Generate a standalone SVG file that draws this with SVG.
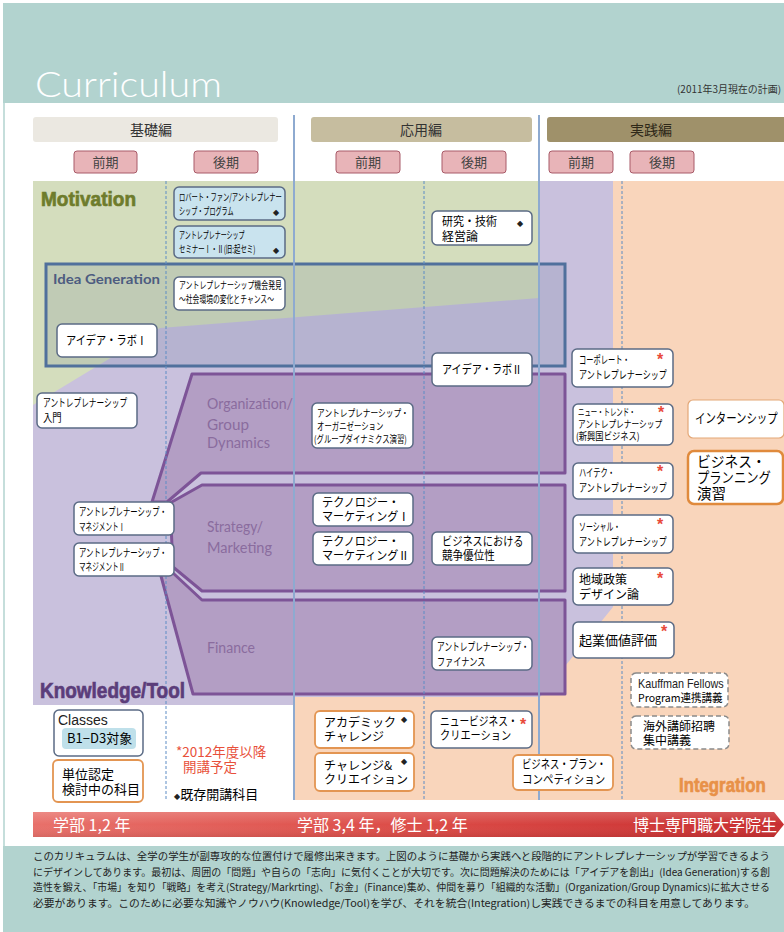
<svg xmlns="http://www.w3.org/2000/svg" width="784" height="932" viewBox="0 0 784 932">
<defs>
<linearGradient id="barGrad" x1="0" y1="0" x2="1" y2="0">
<stop offset="0" stop-color="#e8706a"/>
<stop offset="0.5" stop-color="#dc4c47"/>
<stop offset="1" stop-color="#c82e30"/>
</linearGradient>
<linearGradient id="barShade" x1="0" y1="0" x2="0" y2="1">
<stop offset="0" stop-color="#ffffff" stop-opacity="0.18"/>
<stop offset="0.5" stop-color="#ffffff" stop-opacity="0"/>
<stop offset="1" stop-color="#000000" stop-opacity="0.08"/>
</linearGradient>
</defs>
<style>
.jp{font-family:'Noto Sans CJK JP','Noto Sans CJK SC',sans-serif;}
.lat{font-family:'Liberation Sans',Arial,sans-serif;}
.gill{font-family:'Lato','Open Sans',sans-serif;}
.imp{font-family:'Liberation Sans Narrow','Liberation Sans',sans-serif;font-weight:bold;stroke-width:0.7;}
.node{fill:#fff;stroke:#5b6b85;stroke-width:1.5;}
.blue{fill:#c9e3ee;}
.orng{fill:#fff;stroke:#e39552;stroke-width:1.8;}
.dash{fill:#fff;stroke:#8a8a8a;stroke-width:1.5;stroke-dasharray:5,3;}
.term{fill:#e8b4b8;stroke:#a85a68;stroke-width:1;}
.band{fill:#b39ec4;stroke:#7d5497;stroke-width:3;stroke-linejoin:round;}
.vline{stroke:#8eaad0;stroke-width:2;}
.dline{stroke:#5d8cc4;stroke-width:1;stroke-dasharray:3,2;}
.s10{font-size:10px;}
.s11{font-size:11px;}
.s12{font-size:12px;}
.s13{font-size:13px;}
.ast{font-family:'Liberation Sans',sans-serif;font-weight:bold;font-size:16px;fill:#e84a3a;}
.dia{font-size:8px;fill:#222;font-family:'DejaVu Sans',sans-serif;}
.area{font-family:'Lato','Open Sans',sans-serif;font-size:14.5px;fill:#8a6c9e;}
</style>

<!-- page background -->
<rect x="0" y="0" width="784" height="932" fill="#ffffff"/>
<rect x="3" y="3" width="781" height="100" fill="#b2d3cf"/>
<line x1="4" y1="103" x2="4" y2="846" stroke="#b2d3cf" stroke-width="1.5"/>
<text x="35" y="97" class="gill" font-size="36" font-weight="300" fill="#ffffff" textLength="187" lengthAdjust="spacingAndGlyphs">Curriculum</text>
<text x="677" y="93" class="jp" font-size="10" fill="#333" textLength="104" lengthAdjust="spacingAndGlyphs">(2011年3月現在の計画)</text>

<!-- phase headers -->
<g id="phase-kiso">
<rect x="33" y="117" width="245" height="25" rx="3" fill="#ebe8e1"/>
<text x="151" y="135" class="jp" font-size="14" text-anchor="middle" fill="#333">基礎編</text>
</g>
<g id="phase-oyo">
<rect x="311" y="117" width="221" height="25" rx="3" fill="#c6bd9f"/>
<text x="421" y="135" class="jp" font-size="14" text-anchor="middle" fill="#333">応用編</text>
</g>
<g id="phase-jissen">
<rect x="547" y="117" width="240" height="25" rx="3" fill="#9f916a"/>
<text x="651" y="135" class="jp" font-size="14" text-anchor="middle" fill="#2e2818">実践編</text>
</g>
<g id="terms">
<rect class="term" x="74" y="151" width="63" height="22" rx="3"/><text x="105.5" y="167" class="jp s13" text-anchor="middle" fill="#444">前期</text>
<rect class="term" x="194" y="151" width="64" height="22" rx="3"/><text x="226" y="167" class="jp s13" text-anchor="middle" fill="#444">後期</text>
<rect class="term" x="336" y="151" width="64" height="22" rx="3"/><text x="368" y="167" class="jp s13" text-anchor="middle" fill="#444">前期</text>
<rect class="term" x="442" y="151" width="64" height="22" rx="3"/><text x="474" y="167" class="jp s13" text-anchor="middle" fill="#444">後期</text>
<rect class="term" x="549" y="151" width="64" height="22" rx="3"/><text x="581" y="167" class="jp s13" text-anchor="middle" fill="#444">前期</text>
<rect class="term" x="630" y="151" width="64" height="22" rx="3"/><text x="662" y="167" class="jp s13" text-anchor="middle" fill="#444">後期</text>
</g>

<!-- regions -->
<g id="regions">
<rect x="295" y="181" width="489" height="619" fill="#f9d5bb"/>
<rect x="33" y="181" width="506" height="230" fill="#d4ddbd"/>
<polygon points="33,405 160,328 539,298 539,181 613,181 613,607 540,697 294,697 294,705 33,705" fill="#c9c1dd"/>
<rect x="46" y="264" width="519" height="102" fill="#46608a" fill-opacity="0.14" stroke="#50709c" stroke-width="3"/>
</g>

<!-- knowledge bands -->
<g id="bands">
<polygon class="band" points="192,374 565,374 565,473 201,473 167,502 152,502"/>
<polygon class="band" points="170,503 202,485 565,485 565,591 202,591 173,567"/>
<polygon class="band" points="158,565 173,573 202,600 565,600 565,694 193,694"/>
</g>

<!-- connectors (column rules) -->
<g id="connectors">
<line class="vline" x1="294" y1="115" x2="294" y2="800"/>
<line class="vline" x1="539" y1="115" x2="539" y2="800"/>
<line class="dline" x1="166" y1="181" x2="166" y2="800"/>
<line class="dline" x1="424" y1="181" x2="424" y2="800"/>
<line class="dline" x1="622" y1="181" x2="622" y2="800"/>
</g>

<!-- area labels -->
<text x="41" y="206" class="imp" font-size="21" fill="#6e7c2c" stroke="#6e7c2c" textLength="95" lengthAdjust="spacingAndGlyphs">Motivation</text>
<text x="53" y="284" class="gill" font-size="13.5" font-weight="bold" fill="#4d5c80" textLength="107" lengthAdjust="spacingAndGlyphs">Idea Generation</text>
<text x="207" y="409" class="area" textLength="86" lengthAdjust="spacingAndGlyphs">Organization/</text>
<text x="207" y="430" class="area" textLength="42" lengthAdjust="spacingAndGlyphs">Group</text>
<text x="207" y="448" class="area" textLength="63" lengthAdjust="spacingAndGlyphs">Dynamics</text>
<text x="207" y="532" class="area" textLength="56" lengthAdjust="spacingAndGlyphs">Strategy/</text>
<text x="207" y="553" class="area" textLength="65" lengthAdjust="spacingAndGlyphs">Marketing</text>
<text x="207" y="653" class="area" textLength="48" lengthAdjust="spacingAndGlyphs">Finance</text>
<text x="40" y="698" class="imp" font-size="22" fill="#5b3d7a" stroke="#5b3d7a" textLength="145" lengthAdjust="spacingAndGlyphs">Knowledge/Tool</text>
<text transform="translate(679 792) scale(0.84 1)" class="imp" font-size="20" fill="#e89148" stroke="#e89148">Integration</text>

<!-- nodes -->
<g id="n-robert">
<rect class="node blue" x="174" y="187" width="111" height="33" rx="5"/>
<text transform="translate(179 201) scale(0.63 1)" class="jp s10">ロバート・ファン/アントレプレナー</text>
<text transform="translate(179 215) scale(0.61 1)" class="jp s10">シップ・プログラム</text>
<text x="273" y="215" class="dia">◆</text>
</g>
<g id="n-seminar">
<rect class="node blue" x="174" y="226" width="111" height="32" rx="5"/>
<text transform="translate(179 239) scale(0.6 1)" class="jp s10">アントレプレナーシップ</text>
<text transform="translate(179 253) scale(0.64 1)" class="jp s10">セミナーⅠ・Ⅱ(旧:起セミ)</text>
<text x="273" y="253" class="dia">◆</text>
</g>
<g id="n-kikai">
<rect class="node" x="174" y="277" width="111" height="33" rx="5"/>
<text transform="translate(179 289) scale(0.69 1)" class="jp s10">アントレプレナーシップ機会発見</text>
<text transform="translate(179 303) scale(0.68 1)" class="jp s10">～社会環境の変化とチャンス～</text>
</g>
<g id="n-idealab1">
<rect class="node" x="57" y="324" width="100" height="33" rx="5"/>
<text transform="translate(66 345) scale(0.85 1)" class="jp s12">アイデア・ラボⅠ</text>
</g>
<g id="n-kenkyu">
<rect class="node" x="432" y="211" width="100" height="34" rx="5"/>
<text transform="translate(442 226) scale(0.92 1)" class="jp s12">研究・技術</text>
<text x="442" y="241" class="jp s12">経営論</text>
<text x="517" y="226" class="dia">◆</text>
</g>
<g id="n-idealab2">
<rect class="node" x="432" y="353" width="100" height="33" rx="5"/>
<text transform="translate(442 374) scale(0.84 1)" class="jp s12">アイデア・ラボⅡ</text>
</g>
<g id="n-nyumon">
<rect class="node" x="37" y="393" width="100" height="35" rx="5"/>
<text transform="translate(43 407) scale(0.7 1)" class="jp s11">アントレプレナーシップ</text>
<text transform="translate(43 422) scale(0.85 1)" class="jp s11">入門</text>
</g>
<g id="n-organization">
<rect class="node" x="312" y="403" width="101" height="45" rx="5"/>
<text transform="translate(317 417) scale(0.77 1)" class="jp s10">アントレプレナーシップ・</text>
<text transform="translate(317 430) scale(0.74 1)" class="jp s10">オーガニゼーション</text>
<text transform="translate(314 443) scale(0.74 1)" class="jp s10">(グループダイナミクス演習)</text>
</g>
<g id="n-mgmt1">
<rect class="node" x="74" y="502" width="100" height="33" rx="5"/>
<text transform="translate(79 516) scale(0.67 1)" class="jp s11">アントレプレナーシップ・</text>
<text transform="translate(79 531) scale(0.6 1)" class="jp s11">マネジメントⅠ</text>
</g>
<g id="n-mgmt2">
<rect class="node" x="74" y="543" width="100" height="33" rx="5"/>
<text transform="translate(79 557) scale(0.67 1)" class="jp s11">アントレプレナーシップ・</text>
<text transform="translate(79 571) scale(0.6 1)" class="jp s11">マネジメントⅡ</text>
</g>
<g id="n-tech1">
<rect class="node" x="313" y="493" width="100" height="33" rx="5"/>
<text transform="translate(322 507) scale(0.93 1)" class="jp s12">テクノロジー・</text>
<text transform="translate(322 521) scale(0.92 1)" class="jp s12">マーケティングⅠ</text>
</g>
<g id="n-tech2">
<rect class="node" x="313" y="532" width="100" height="33" rx="5"/>
<text transform="translate(322 546) scale(0.93 1)" class="jp s12">テクノロジー・</text>
<text transform="translate(322 560) scale(0.92 1)" class="jp s12">マーケティングⅡ</text>
</g>
<g id="n-kyoso">
<rect class="node" x="432" y="532" width="100" height="33" rx="5"/>
<text transform="translate(442 546) scale(0.85 1)" class="jp s12">ビジネスにおける</text>
<text transform="translate(442 560) scale(0.88 1)" class="jp s12">競争優位性</text>
</g>
<g id="n-finance">
<rect class="node" x="432" y="637" width="100" height="33" rx="5"/>
<text transform="translate(437 651) scale(0.7 1)" class="jp s11">アントレプレナーシップ・</text>
<text transform="translate(437 666) scale(0.74 1)" class="jp s11">ファイナンス</text>
</g>
<g id="n-corporate">
<rect class="node" x="572" y="349" width="101" height="38" rx="5"/>
<text transform="translate(579 364) scale(0.66 1)" class="jp s11">コーポレート・</text>
<text transform="translate(579 379) scale(0.73 1)" class="jp s11">アントレプレナーシップ</text>
<text x="657" y="365" class="ast">*</text>
</g>
<g id="n-newtrend">
<rect class="node" x="573" y="404" width="100" height="41" rx="5"/>
<text transform="translate(578 416) scale(0.64 1)" class="jp s10">ニュー・トレンド・</text>
<text transform="translate(578 428) scale(0.77 1)" class="jp s10">アントレプレナーシップ</text>
<text transform="translate(576 440) scale(0.83 1)" class="jp s10">(新興国ビジネス)</text>
<text x="658" y="418" class="ast">*</text>
</g>
<g id="n-hitech">
<rect class="node" x="573" y="463" width="100" height="36" rx="5"/>
<text transform="translate(579 477) scale(0.66 1)" class="jp s11">ハイテク・</text>
<text transform="translate(579 492) scale(0.73 1)" class="jp s11">アントレプレナーシップ</text>
<text x="657" y="477" class="ast">*</text>
</g>
<g id="n-social">
<rect class="node" x="573" y="515" width="100" height="38" rx="5"/>
<text transform="translate(579 531) scale(0.63 1)" class="jp s11">ソーシャル・</text>
<text transform="translate(579 546) scale(0.73 1)" class="jp s11">アントレプレナーシップ</text>
<text x="657" y="530" class="ast">*</text>
</g>
<g id="n-chiiki">
<rect class="node" x="573" y="568" width="100" height="37" rx="5"/>
<text x="579" y="584" class="jp s12">地域政策</text>
<text x="579" y="599" class="jp s12">デザイン論</text>
<text x="657" y="584" class="ast">*</text>
</g>
<g id="n-kigyo">
<rect class="node" x="573" y="622" width="101" height="36" rx="5"/>
<text x="579" y="645" class="jp s13">起業価値評価</text>
<text x="661" y="637" class="ast">*</text>
</g>
<g id="n-intern">
<rect x="688" y="400" width="96" height="38" rx="5" fill="#fff" stroke="#e3a777" stroke-width="1.2"/>
<text transform="translate(695 423) scale(0.77 1)" class="jp" font-size="13.5">インターンシップ</text>
</g>
<g id="n-bizplanning">
<rect x="688" y="451" width="95" height="53" rx="6" fill="#fff" stroke="#e08a3c" stroke-width="2.5"/>
<text transform="translate(697 467) scale(0.95 1)" class="jp" font-size="14.5">ビジネス・</text>
<text transform="translate(697 483) scale(0.85 1)" class="jp" font-size="14.5">プランニング</text>
<text x="697" y="499" class="jp" font-size="14.5">演習</text>
</g>
<g id="n-kauffman">
<rect class="dash" x="631" y="673" width="97" height="34" rx="5"/>
<text transform="translate(638 688) scale(0.9 1)" class="lat s12" fill="#222">Kauffman Fellows</text>
<text transform="translate(638 702) scale(0.96 1)" class="jp s11">Program連携講義</text>
</g>
<g id="n-kaigai">
<rect class="dash" x="631" y="716" width="98" height="33" rx="5"/>
<text x="643" y="731" class="jp s12">海外講師招聘</text>
<text x="643" y="745" class="jp s12">集中講義</text>
</g>
<g id="n-academic">
<rect class="orng" x="315" y="711" width="99" height="37" rx="5"/>
<text x="324" y="727" class="jp s12">アカデミック</text>
<text x="324" y="741" class="jp s12">チャレンジ</text>
<text x="401" y="722" class="dia">◆</text>
</g>
<g id="n-newbiz">
<rect class="node" x="431" y="711" width="101" height="37" rx="5"/>
<text transform="translate(440 726) scale(0.81 1)" class="jp s12">ニュービジネス・</text>
<text transform="translate(440 740) scale(0.85 1)" class="jp s12">クリエーション</text>
<text x="520" y="730" class="ast">*</text>
</g>
<g id="n-challenge">
<rect class="orng" x="315" y="753" width="99" height="38" rx="5"/>
<text x="324" y="770" class="jp s12">チャレンジ&amp;</text>
<text x="324" y="784" class="jp s12">クリエイション</text>
<text x="401" y="764" class="dia">◆</text>
</g>
<g id="n-bizplancomp">
<rect class="orng" x="513" y="755" width="100" height="35" rx="5"/>
<text transform="translate(522 769) scale(0.78 1)" class="jp s12">ビジネス・プラン・</text>
<text transform="translate(522 784) scale(0.875 1)" class="jp s12">コンペティション</text>
</g>

<!-- legend -->
<g id="legend">
<rect class="node" x="54" y="710" width="89" height="46" rx="5"/>
<text x="58" y="725" class="lat" font-size="14" fill="#222">Classes</text>
<rect x="62" y="728" width="74" height="21" rx="4" fill="#bfe0ea"/>
<text x="67" y="743" class="jp s13">B1−D3対象</text>
<rect class="orng" x="53" y="760" width="90" height="42" rx="5"/>
<text x="62" y="779" class="jp s13">単位認定</text>
<text x="62" y="794" class="jp s13">検討中の科目</text>
<text x="176" y="757" class="jp" font-size="13.5" fill="#e8503a">*2012年度以降</text>
<text x="183" y="772" class="jp" font-size="13.5" fill="#e8503a">開講予定</text>
<text x="174" y="799" class="jp s13"><tspan class="dia">◆</tspan>既存開講科目</text>
</g>

<!-- bottom bar -->
<g id="year-bar">
<polygon points="33,812 774,812 784,824.5 774,837 33,837" fill="url(#barGrad)"/>
<polygon points="33,812 774,812 784,824.5 774,837 33,837" fill="url(#barShade)"/>
<text x="53" y="831" class="jp" font-size="16" fill="#fff">学部 1,2 年</text>
<text x="297" y="831" class="jp" font-size="16" fill="#fff">学部 3,4 年，修士 1,2 年</text>
<text x="777" y="831" class="jp" font-size="16" fill="#fff" text-anchor="end">博士専門職大学院生</text>
</g>

<!-- footer -->
<g id="footer">
<rect x="3" y="846" width="781" height="86" fill="#b2d3cf"/>
<text x="33" y="860" class="jp" font-size="10" fill="#222" textLength="737" lengthAdjust="spacingAndGlyphs">このカリキュラムは、全学の学生が副専攻的な位置付けで履修出来きます。上図のように基礎から実践へと段階的にアントレプレナーシップが学習できるよう</text>
<text x="33" y="876" class="jp" font-size="10" fill="#222" textLength="737" lengthAdjust="spacingAndGlyphs">にデザインしてあります。最初は、周囲の「問題」や自らの「志向」に気付くことが大切です。次に問題解決のためには「アイデアを創出」(Idea Generation)する創</text>
<text x="33" y="891" class="jp" font-size="10" fill="#222" textLength="737" lengthAdjust="spacingAndGlyphs">造性を鍛え、「市場」を知り「戦略」を考え(Strategy/Markrting)、「お金」(Finance)集め、仲間を募り「組織的な活動」(Organization/Group Dynamics)に拡大させる</text>
<text x="33" y="907" class="jp" font-size="10" fill="#222" textLength="722" lengthAdjust="spacingAndGlyphs">必要があります。このために必要な知識やノウハウ(Knowledge/Tool)を学び、それを統合(Integration)し実践できるまでの科目を用意してあります。</text>
</g>
</svg>
